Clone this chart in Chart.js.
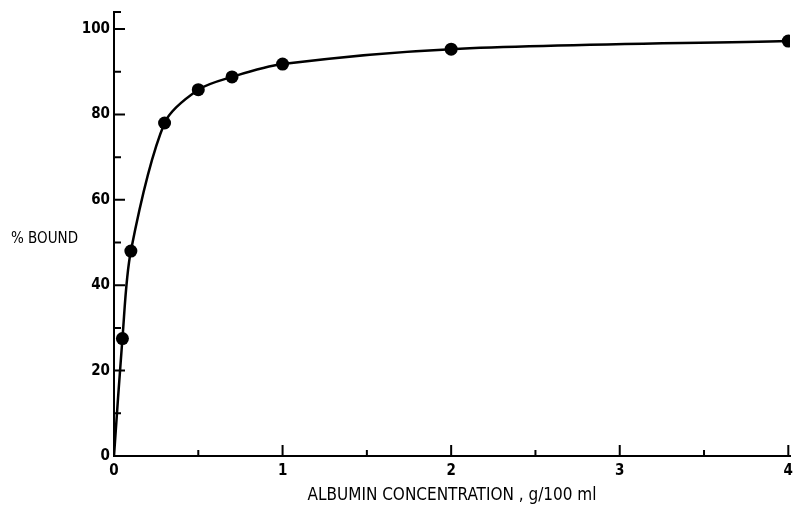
<!DOCTYPE html>
<html>
<head>
<meta charset="utf-8">
<script src="https://cdn.jsdelivr.net/npm/chart.js@4.4.1/dist/chart.umd.min.js"></script>
<style>
  html, body { margin: 0; padding: 0; background: #fff; }
  #wrap { width: 802px; height: 507px; position: relative; }
</style>
</head>
<body>
<div id="wrap"><canvas id="c" width="802" height="507"></canvas></div>
<script>
// ---- data ----
const albuminConc = [0.05, 0.1, 0.3, 0.5, 0.7, 1, 2, 4];     // g/100 ml
const percentBound = [27.5, 48, 78, 85.8, 88.8, 91.8, 95.3, 97.2];
const curveOrigin = { x: 0, y: 0 };                         // curve starts at origin
const xTickLabels = [0, 1, 2, 3, 4];
const xMinorTicks = [0.5, 1.5, 2.5, 3.5];
const yTickLabels = [0, 20, 40, 60, 80, 100];
const yMinorTicks = [10, 30, 50, 70, 90];
const xTitle = 'ALBUMIN CONCENTRATION , g/100 ml';
const yTitle = '% BOUND';

const FONT = '"DejaVu Sans Condensed", "DejaVu Sans", sans-serif';

const markers = albuminConc.map((x, i) => ({ x, y: percentBound[i] }));
const curve = [curveOrigin].concat(markers);

const decorPlugin = {
  id: 'decor',
  afterDraw(chart) {
    const ctx = chart.ctx;
    const xs = chart.scales.x, ys = chart.scales.y;
    const ca = chart.chartArea;
    ctx.save();
    ctx.strokeStyle = '#000';
    ctx.lineWidth = 2;
    ctx.beginPath();
    yTickLabels.forEach(v => { const p = ys.getPixelForValue(v); ctx.moveTo(ca.left, p); ctx.lineTo(ca.left + 11, p); });
    yMinorTicks.forEach(v => { const p = ys.getPixelForValue(v); ctx.moveTo(ca.left, p); ctx.lineTo(ca.left + 7, p); });
    xTickLabels.forEach(v => { const p = xs.getPixelForValue(v); ctx.moveTo(p, ca.bottom); ctx.lineTo(p, ca.bottom - 11); });
    xMinorTicks.forEach(v => { const p = xs.getPixelForValue(v); ctx.moveTo(p, ca.bottom); ctx.lineTo(p, ca.bottom - 6); });
    ctx.moveTo(ca.left - 1, ca.top); ctx.lineTo(ca.left + 7, ca.top);
    ctx.stroke();
    ctx.fillStyle = '#000';
    ctx.font = '15px ' + FONT;
    ctx.textAlign = 'left';
    ctx.textBaseline = 'middle';
    ctx.fillText(yTitle, 11, ys.getPixelForValue(50.8));
    ctx.restore();
  }
};

new Chart(document.getElementById('c'), {
  type: 'scatter',
  data: {
    datasets: [
      {
        data: curve,
        showLine: true,
        borderColor: '#000',
        borderWidth: 2.5,
        pointRadius: 0,
        tension: 0.3,
        fill: false
      },
      {
        data: markers,
        showLine: false,
        pointRadius: 6.5,
        pointBackgroundColor: '#000',
        pointBorderColor: '#000',
        pointBorderWidth: 0
      }
    ]
  },
  options: {
    responsive: false,
    animation: false,
    events: [],
    layout: { padding: { top: 12, right: 12, left: 0, bottom: 0 } },
    plugins: { legend: { display: false }, tooltip: { enabled: false } },
    scales: {
      x: {
        type: 'linear',
        min: 0,
        max: 4.01,
        afterBuildTicks: s => { s.ticks = xTickLabels.map(v => ({ value: v })); },
        afterFit: s => { s.height = 51; s.paddingLeft = 0; s.paddingRight = 0; },
        grid: { display: false, drawTicks: false },
        border: { display: true, color: '#000', width: 2 },
        ticks: {
          padding: 6,
          color: '#000',
          font: { family: FONT, size: 15, weight: 'bold' },
          callback: v => String(v)
        },
        title: {
          display: true,
          text: xTitle,
          color: '#000',
          font: { family: FONT, size: 17 },
          padding: { top: 0, bottom: 1 }
        }
      },
      y: {
        type: 'linear',
        min: 0,
        max: 104,
        afterBuildTicks: s => { s.ticks = yTickLabels.map(v => ({ value: v })); },
        afterFit: s => { s.width = 114; s.paddingTop = 0; s.paddingBottom = 0; },
        grid: { display: false, drawTicks: false },
        border: { display: true, color: '#000', width: 2 },
        ticks: {
          padding: 4,
          color: '#000',
          font: { family: FONT, size: 15, weight: 'bold' },
          callback: v => String(v)
        }
      }
    }
  },
  plugins: [decorPlugin]
});
</script>
</body>
</html>
